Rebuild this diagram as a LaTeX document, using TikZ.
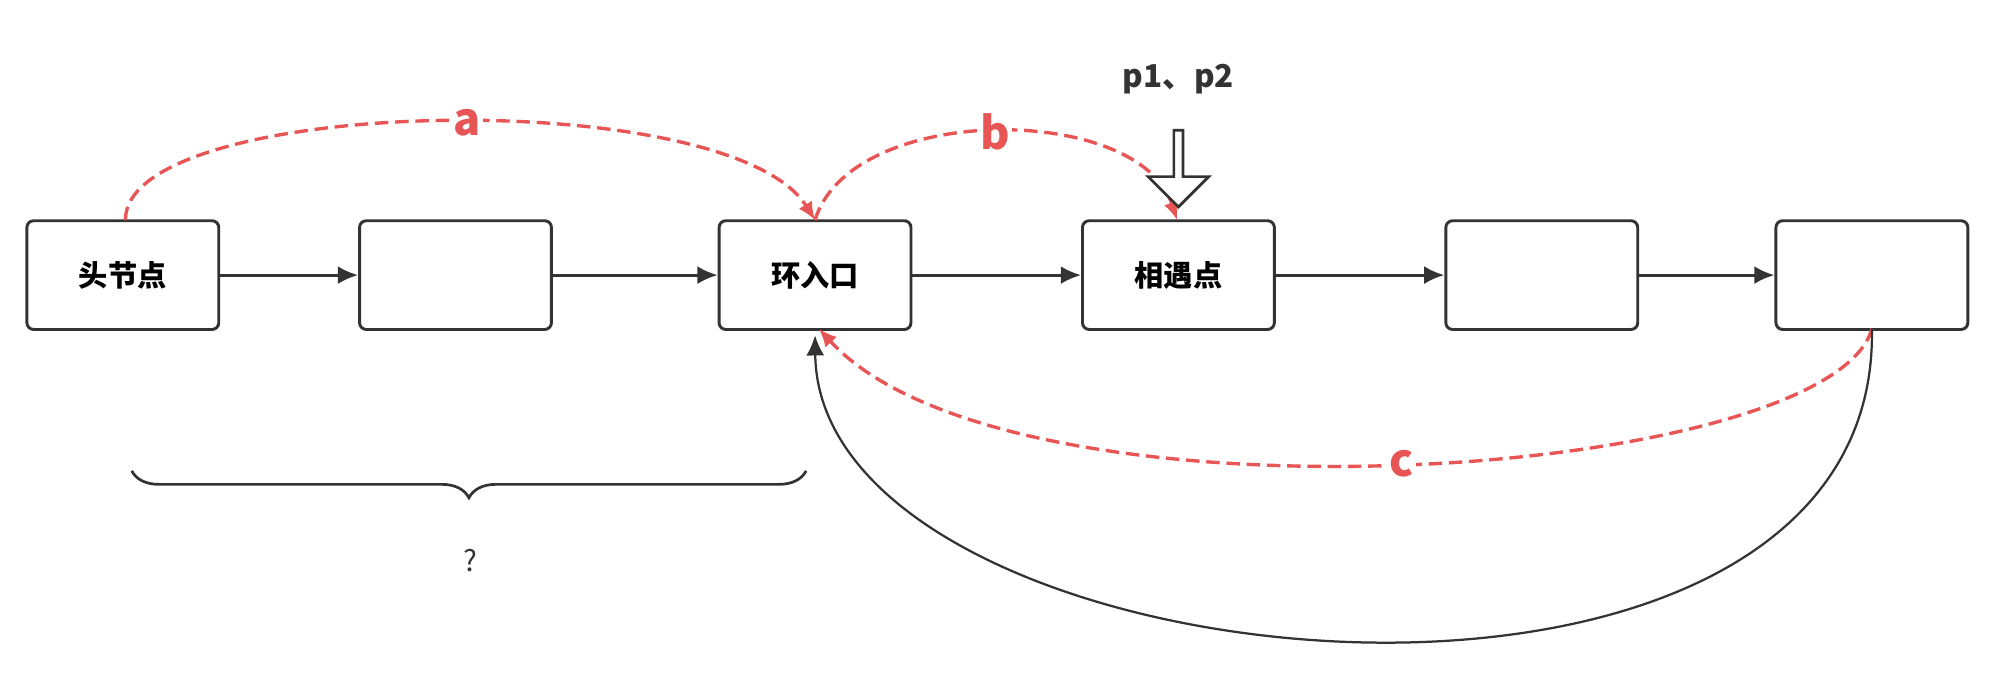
\documentclass[tikz,border=0pt]{standalone}
\usepackage{fontspec}
\setmainfont{Noto Sans CJK SC}
\usetikzlibrary{arrows.meta,decorations.pathreplacing,shapes.arrows}
\definecolor{rd}{HTML}{E85555}
\definecolor{dk}{HTML}{333333}
\begin{document}
\begin{tikzpicture}[x=0.02cm,y=-0.02cm,
  box/.style={draw=dk,line width=1.3pt,rounded corners=3pt,minimum width=3.0cm,minimum height=1.7cm,font=\fontsize{13}{15}\selectfont\bfseries},
  link/.style={draw=dk,line width=1.3pt,-{Latex[length=9pt,width=8pt]}},
  red/.style={draw=rd,line width=1.5pt,dash pattern=on 6pt off 3pt,-{Latex[length=8pt,width=7pt]}},
  lbl/.style={text=rd,font=\fontsize{20}{22}\selectfont\bfseries,fill=white,inner sep=1pt}]
\useasboundingbox (0,0) rectangle (1560,535);
\node[box] (n1) at (96,215) {头节点};
\node[box] (n2) at (356,215) {};
\node[box] (n3) at (637,215) {环入口};
\node[box] (n4) at (921,215) {相遇点};
\node[box] (n5) at (1205,215) {};
\node[box] (n6) at (1463,215) {};
\draw[link] (n1) -- (n2);
\draw[link] (n2) -- (n3);
\draw[link] (n3) -- (n4);
\draw[link] (n4) -- (n5);
\draw[link] (n5) -- (n6);
\coordinate (a0) at (98,172);
\coordinate (a1) at (637,172);
\coordinate (b1) at (920,172);
\coordinate (c0) at (1463,257);
\coordinate (c1) at (640,257);
\draw[red] (a0) .. controls (98,75) and (570,65) .. (a1) node[lbl,pos=0.53] {a};
\draw[red] (a1) .. controls (665,80) and (890,80) .. (b1) node[lbl,pos=0.5] {b};
\draw[red] (c0) .. controls (1430,375) and (790,420) .. (c1) node[lbl,pos=0.5] {c};
\draw[link,line width=1pt] (c0) .. controls (1470,620) and (640,540) .. (637,262);
\node[single arrow,draw=dk,line width=1.2pt,fill=white,shape border rotate=270,minimum height=1.2cm,minimum width=0.95cm,single arrow head extend=0.12cm,inner sep=0pt] (pa) at (921,130) {};
\node[font=\fontsize{14}{16}\selectfont\bfseries,text=dk] (pt) at (921,62) {p1、p2};
\draw[dk,line width=1.2pt,decorate,decoration={brace,mirror,amplitude=12pt}] (103,368) -- (630,368) coordinate[midway] (bm);
\node[font=\fontsize{13}{15}\selectfont,text=dk] (q) at (368,438) {?};
\end{tikzpicture}
\end{document}
